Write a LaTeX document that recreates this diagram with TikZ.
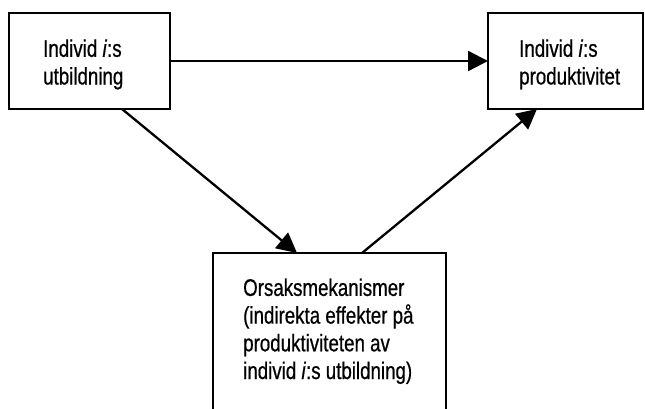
\documentclass[tikz,border=0pt]{standalone}
\usepackage{fontspec}
\setmainfont[FakeStretch=0.78,FakeBold=0.6]{Liberation Sans}
\usetikzlibrary{arrows.meta}
\tikzset{
  box/.style={draw=black, line width=2.5pt, inner sep=0pt, outer sep=0pt, fill=none},
  lbl/.style={anchor=base west, inner sep=0pt, align=left, font=\fontsize{24pt}{27.7pt}\selectfont},
  arr/.style={line width=2.3pt, -{Triangle[length=20pt, width=20pt]}}
}
\begin{document}
\begin{tikzpicture}[x=1pt,y=1pt]
\clip (0,0) rectangle (645,-408);
\fill[white] (0,0) rectangle (645,-408);
\node[box, minimum width=161pt, minimum height=96pt] (A) at (89.5,-61) {};
\node[box, minimum width=155pt, minimum height=96pt] (B) at (565.5,-61) {};
\node[box, minimum width=233pt, minimum height=167pt] (C) at (329.5,-336.5) {};
\node[lbl] (tA) at (43,-84.5) {Individ \textit{i}:s\\utbildning};
\node[lbl] (tB) at (519,-84.5) {Individ \textit{i}:s\\produktivitet};
\node[lbl] (tC) at (243,-379) {Orsaksmekanismer\\(indirekta effekter på\\produktiviteten av\\individ \textit{i}:s utbildning)};
\draw[arr] (A.east) -- (B.west);
\draw[arr] ([xshift=32.5pt]A.south) -- ([xshift=-32.5pt]C.north);
\draw[arr] ([xshift=32.5pt]C.north) -- ([xshift=-28.5pt]B.south);
\end{tikzpicture}
\end{document}
